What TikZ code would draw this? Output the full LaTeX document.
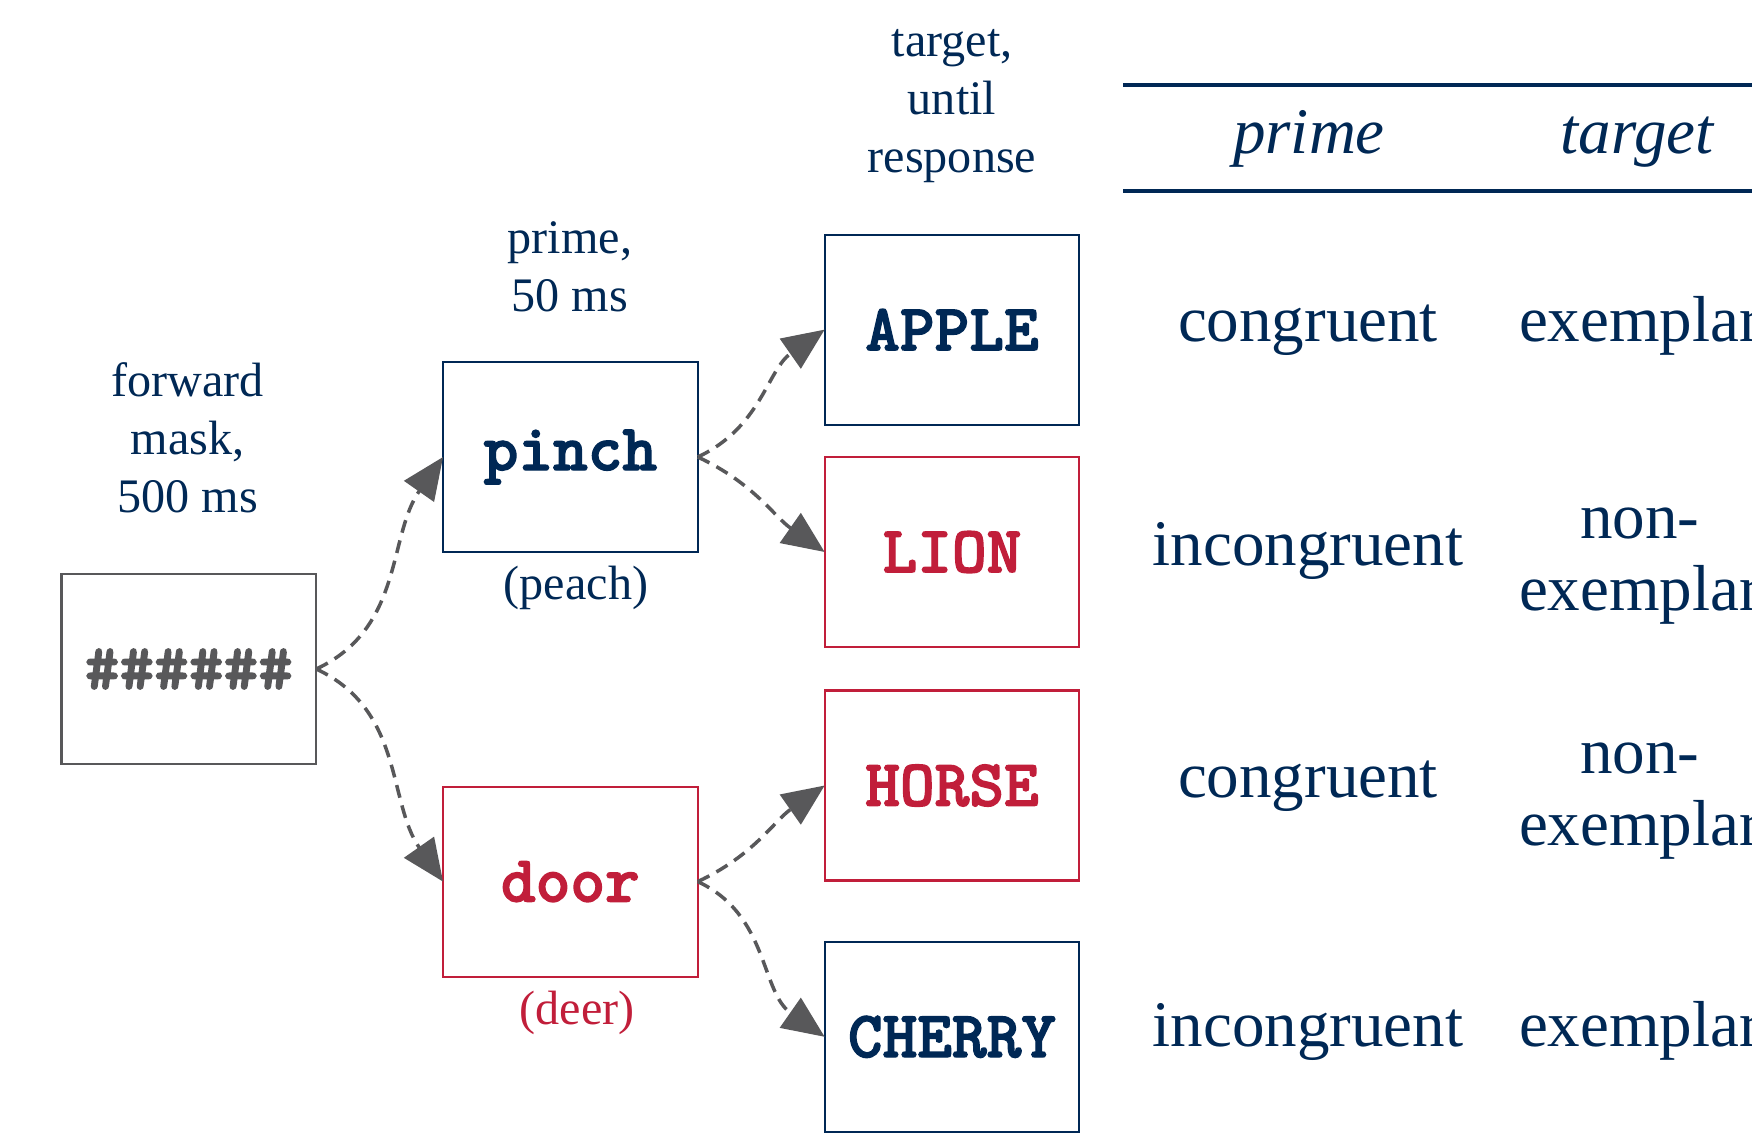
\documentclass[tikz,border=0pt]{standalone}
\usepackage{fontspec}
\setmainfont{Liberation Serif}
\newfontfamily\monobold{lmmonolt10-bold}[Extension=.otf, FakeBold=2]
\usetikzlibrary{arrows.meta}
\definecolor{navy}{RGB}{0,40,85}
\definecolor{crimson}{RGB}{193,30,58}
\definecolor{darkgray}{RGB}{88,88,90}
\tikzset{
  trialbox/.style={draw, line width=0.6pt, minimum width=2.547cm, minimum height=1.90cm, inner sep=0pt, outer sep=0pt,
    font=\fontsize{18.8}{20}\selectfont\monobold},
  bluebox/.style={trialbox, draw=navy, text=navy},
  redbox/.style={trialbox, draw=crimson, text=crimson},
  graybox/.style={trialbox, draw=darkgray, text=darkgray},
  lbl/.style={align=center, text=navy, inner sep=0pt, font=\fontsize{13.7}{16.5}\selectfont},
  tab/.style={align=center, text=navy, inner sep=0pt, font=\fontsize{18.5}{20.7}\selectfont},
  conn/.style={draw=darkgray, line width=1pt, dash pattern=on 0.13cm off 0.08cm,
    -{Triangle[length=0.42cm,width=0.36cm]}},
  rule/.style={draw=navy, line width=1.1pt}
}
\begin{document}
\begin{tikzpicture}
\useasboundingbox (0,0) rectangle (17.52,-11.37);
% boxes
\node[graybox] (mask) at (1.889,-6.69) {\#\#\#\#\#\#};
\node[bluebox] (pinch) at (5.704,-4.57) {pinch};
\node[redbox] (door) at (5.704,-8.816) {door};
\node[bluebox] (apple) at (9.52,-3.296) {APPLE};
\node[redbox] (lion) at (9.52,-5.52) {LION};
\node[redbox] (horse) at (9.52,-7.855) {HORSE};
\node[bluebox] (cherry) at (9.52,-10.368) {CHERRY};
% labels
\node[lbl] (lmask) at (1.877,-4.38) {forward\\mask,\\500 ms};
\node[lbl] (lprime) at (5.70,-2.67) {prime,\\50 ms};
\node[lbl] (ltarget) at (9.52,-1.06) {target,\\until\\response};
\node[lbl] (peach) at (5.76,-5.88) {(peach)};
\node[lbl, text=crimson] (deer) at (5.77,-10.13) {(deer)};
% connectors
\draw[conn] (mask.east) to[out=25,in=235] (pinch.west);
\draw[conn] (mask.east) to[out=-25,in=125] (door.west);
\draw[conn] (pinch.east) to[out=25,in=215] (apple.west);
\draw[conn] (pinch.east) to[out=-25,in=145] (lion.west);
\draw[conn] (door.east) to[out=25,in=215] (horse.west);
\draw[conn] (door.east) to[out=-25,in=145] (cherry.west);
% table
\coordinate (r1a) at (11.23,-0.85);
\coordinate (r1b) at (17.6,-0.85);
\coordinate (r2a) at (11.23,-1.91);
\coordinate (r2b) at (17.6,-1.91);
\draw[rule] (r1a) -- (r1b);
\draw[rule] (r2a) -- (r2b);
\node[tab, anchor=base] (hprime) at (13.09,-1.53) {\textit{prime}};
\node[tab, anchor=base] (htarget) at (16.38,-1.53) {\textit{target}};
\node[tab, anchor=base] (p1) at (13.08,-3.41) {congruent};
\node[tab, anchor=base] (t1) at (16.40,-3.41) {exemplar};
\node[tab, anchor=base] (p2) at (13.08,-5.65) {incongruent};
\node[tab] (t2) at (16.40,-5.66) {non-\\exemplar};
\node[tab, anchor=base] (p3) at (13.08,-7.97) {congruent};
\node[tab] (t3) at (16.40,-8.01) {non-\\exemplar};
\node[tab, anchor=base] (p4) at (13.08,-10.46) {incongruent};
\node[tab, anchor=base] (t4) at (16.40,-10.46) {exemplar};
\end{tikzpicture}
\end{document}
